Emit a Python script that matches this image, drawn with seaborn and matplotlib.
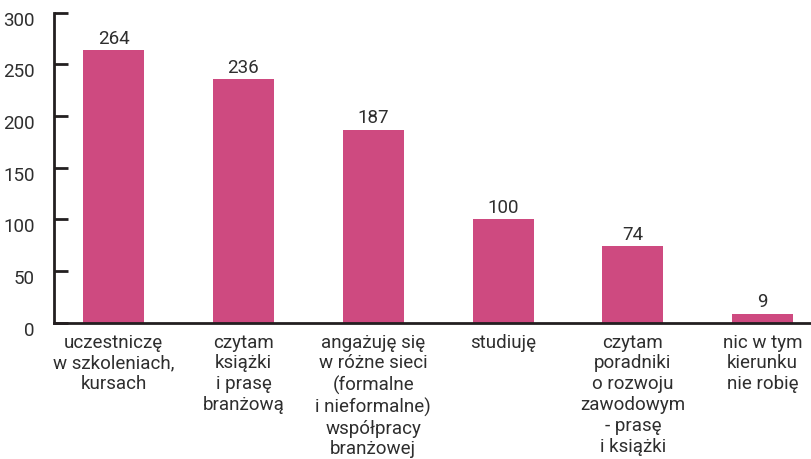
"""
Wykres słupkowy: formy rozwoju zawodowego
"""
import matplotlib
matplotlib.use("Agg")
import matplotlib.pyplot as plt
import matplotlib.transforms as mtransforms
import pandas as pd
import seaborn as sns

categories = [
    "uczestniczę\nw szkoleniach,\nkursach",
    "czytam\nksiążki\ni prasę\nbranżową",
    "angażuję się\nw różne sieci\n(formalne\ni nieformalne)\nwspółpracy\nbranżowej",
    "studiuję",
    "czytam\nporadniki\no rozwoju\nzawodowym\n- prasę\ni książki",
    "nic w tym\nkierunku\nnie robię",
]
counts = [264, 236, 187, 100, 74, 9]
yticks = [0, 50, 100, 150, 200, 250, 300]

sns.set_style("white")
plt.rcParams['font.family'] = ['Roboto', 'DejaVu Sans']
ink = "#231f20"
txt = "#2e2e2e"

df = pd.DataFrame({"kategoria": categories, "liczba": counts})

fig = plt.figure(figsize=(8.12, 4.6), dpi=100)
ax = fig.add_axes([0.0665, 0.296, 0.9335, 0.674])
sns.barplot(data=df, x="kategoria", y="liczba", color="#CE4A80", width=0.47,
            saturation=1, linewidth=0, ax=ax)

for i, v in enumerate(counts):
    ax.text(i, v + 3, str(v), ha="center", va="bottom", fontsize=13.5, color=txt)

ax.set_xlim(-0.46, 5.38)
ax.set_ylim(0, 300)
ax.set_yticks(yticks)
ax.set_xlabel("")
ax.set_ylabel("")
ax.tick_params(axis="y", left=True, direction="in", length=10, width=2, color=ink,
               labelsize=13.5, labelcolor=txt, pad=14)
ax.tick_params(axis="x", length=0, labelsize=13.5, labelcolor=txt, pad=7)
for lbl in ax.get_xticklabels():
    lbl.set_linespacing(1.2)
# etykiety osi Y lekko przesunięte w dół
off = mtransforms.ScaledTranslation(0, -5 / 100, fig.dpi_scale_trans)
for lbl in ax.get_yticklabels():
    lbl.set_transform(lbl.get_transform() + off)

for side in ["top", "right"]:
    ax.spines[side].set_visible(False)
for side in ["left", "bottom"]:
    ax.spines[side].set_linewidth(2)
    ax.spines[side].set_color(ink)

fig.savefig("out.png", dpi=100)
